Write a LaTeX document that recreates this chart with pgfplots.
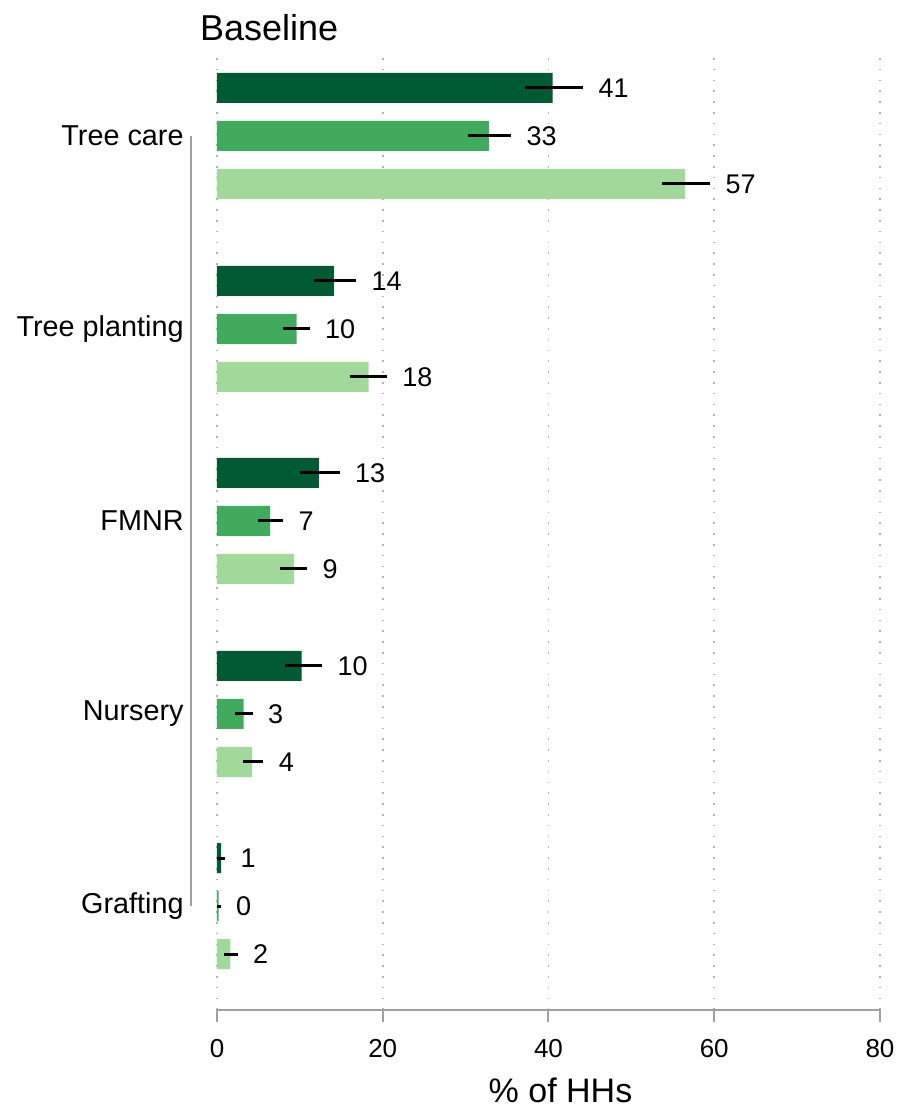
\documentclass[border=0pt]{standalone}
\usepackage{fontspec}
\setmainfont{Liberation Sans}
\usepackage{pgfplots}
\pgfplotsset{compat=1.18}

\definecolor{gdark}{HTML}{005A32}
\definecolor{gmid}{HTML}{41AB5D}
\definecolor{glight}{HTML}{A1D99B}
\definecolor{axgray}{HTML}{A0A0A0}

\begin{document}
\begin{tikzpicture}
\begin{axis}[
    name=ax,
    width=331.5pt, height=480pt, scale only axis,
    xmin=0, xmax=80, ymin=-922, ymax=38,
    axis x line*=bottom, axis y line*=left,
    y axis line style={draw=none},
    x axis line style={axgray, line width=1pt},
    xtick={0,20,40,60,80},
    xtick style={axgray, line width=1pt},
    tick align=outside, major tick length=6pt,
    ytick={-818,-626,-433,-241,-48},
    yticklabels={Grafting,Nursery,FMNR,Tree planting,Tree care},
    ytick style={draw=none},
    xmajorgrids,
    grid style={axgray!80, line width=0.8pt, dash pattern=on 0.8pt off 4.6pt},
    /pgf/number format/assume math mode=true,
    xticklabel style={font=\fontsize{13}{15}\selectfont, yshift=-5pt},
    yticklabel style={font=\fontsize{14.4}{17}\selectfont, anchor=east, inner sep=0pt, xshift=-10.5pt},
    title={Baseline},
    title style={at={(rel axis cs:0,1)}, anchor=base west, xshift=-12pt, yshift=-1.5pt,
        font=\fontsize{18}{21}\selectfont},
    xlabel={\% of HHs},
    every axis x label/.style={at={(rel axis cs:0.5,0)}, anchor=center, yshift=-40pt, xshift=6pt,
        font=\fontsize{17}{20}\selectfont},
    error bars/error bar style={black, line width=1.5pt},
    clip=false,
]

% dark green series
\addplot[xbar, bar shift=0pt, bar width=30, fill=gdark, draw=none,
    error bars/.cd, x dir=both, x explicit, error mark=none]
coordinates {
    (40.5,0)    += (3.7,0) -= (3.3,0)
    (14.1,-193) += (2.7,0) -= (2.4,0)
    (12.3,-385) += (2.5,0) -= (2.3,0)
    (10.2,-578) += (2.5,0) -= (2.0,0)
    (0.5,-770)  += (0.5,0) -= (0.45,0)
};

% medium green series
\addplot[xbar, bar shift=0pt, bar width=30, fill=gmid, draw=none,
    error bars/.cd, x dir=both, x explicit, error mark=none]
coordinates {
    (32.8,-48)  += (2.7,0) -= (2.5,0)
    (9.6,-241)  += (1.6,0) -= (1.6,0)
    (6.4,-433)  += (1.6,0) -= (1.5,0)
    (3.2,-626)  += (1.1,0) -= (1.0,0)
    (0.2,-818)  += (0.25,0) -= (0.2,0)
};

% light green series
\addplot[xbar, bar shift=0pt, bar width=30, fill=glight, draw=none,
    error bars/.cd, x dir=both, x explicit, error mark=none]
coordinates {
    (56.5,-96)  += (3.0,0) -= (2.8,0)
    (18.3,-289) += (2.2,0) -= (2.3,0)
    (9.3,-481)  += (1.6,0) -= (1.7,0)
    (4.2,-674)  += (1.4,0) -= (1.1,0)
    (1.6,-866)  += (0.9,0) -= (0.7,0)
};

% value labels, placed past the upper end of each error bar
\addplot[draw=none, mark=none, nodes near coords, point meta=explicit symbolic,
    every node near coord/.style={anchor=west, inner sep=0pt, xshift=7.5pt,
        font=\fontsize{13.5}{16}\selectfont, black}]
coordinates {
    (44.2,0)[41] (35.5,-48)[33] (59.5,-96)[57]
    (16.8,-193)[14] (11.2,-241)[10] (20.5,-289)[18]
    (14.8,-385)[13] (8.0,-433)[7] (10.9,-481)[9]
    (12.7,-578)[10] (4.3,-626)[3] (5.6,-674)[4]
    (1.0,-770)[1] (0.45,-818)[0] (2.5,-866)[2]
};

% category axis line
\draw[axgray, line width=1pt] ([xshift=-13pt]axis cs:0,-48) -- ([xshift=-13pt]axis cs:0,-818);
\end{axis}
\pgfresetboundingbox
\path[use as bounding box] ([xshift=-108.5pt,yshift=-49.5pt]ax.south west)
    rectangle ([xshift=10pt,yshift=25pt]ax.north east);
\end{tikzpicture}
\end{document}
